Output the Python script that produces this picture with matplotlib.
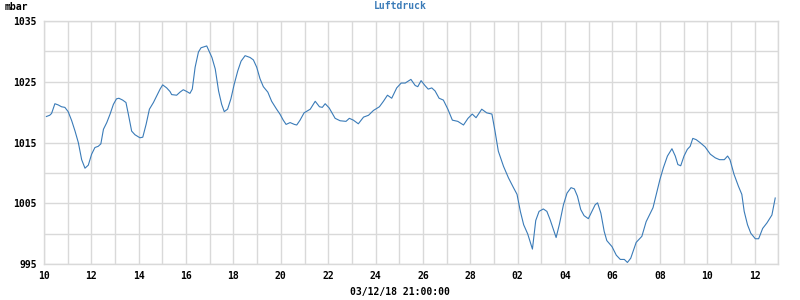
import numpy as np
from matplotlib import pyplot as plt

# days since 10 Feb 2018 00:00, pressure in mbar
days = [0.10, 0.24, 0.32, 0.46, 0.60, 0.74, 0.88, 1.02, 1.17, 1.31, 1.45, 1.59, 1.73, 1.87,
        2.01, 2.15, 2.29, 2.40, 2.51, 2.65, 2.79, 2.93, 3.06, 3.16, 3.32, 3.46, 3.56, 3.70,
        3.84, 4.05, 4.17, 4.31, 4.45, 4.62, 4.76, 4.90, 5.01, 5.18, 5.32, 5.39, 5.60, 5.74,
        5.88, 6.03, 6.16, 6.26, 6.38, 6.52, 6.63, 6.87, 7.09, 7.23, 7.37, 7.50, 7.61, 7.75,
        7.89, 8.03, 8.18, 8.32, 8.49, 8.70, 8.84, 8.98, 9.12, 9.26, 9.45, 9.61, 9.82, 9.96,
        10.10, 10.22, 10.39, 10.57, 10.67, 10.81, 10.98, 11.24, 11.45, 11.63, 11.75, 11.87,
        12.04, 12.29, 12.50, 12.75, 12.89, 13.06, 13.27, 13.49, 13.70, 13.91, 14.16, 14.33,
        14.50, 14.68, 14.89, 15.08, 15.25, 15.49, 15.67, 15.78, 15.92, 16.08, 16.22, 16.37,
        16.51, 16.68, 16.86, 17.05, 17.24, 17.47, 17.71, 17.90, 18.08, 18.24, 18.48, 18.69,
        18.91, 19.04, 19.18, 19.40, 19.61, 19.82, 19.97, 20.11, 20.25, 20.42, 20.62, 20.76,
        20.90, 21.08, 21.23, 21.37, 21.51, 21.62, 21.76, 21.93, 22.08, 22.25, 22.39, 22.52,
        22.66, 22.80, 22.98, 23.13, 23.27, 23.37, 23.51, 23.65, 23.76, 23.98, 24.16, 24.33,
        24.50, 24.63, 24.77, 25.00, 25.24, 25.42, 25.71, 25.88, 26.00, 26.15, 26.32, 26.51,
        26.65, 26.76, 26.88, 27.02, 27.16, 27.28, 27.39, 27.53, 27.70, 27.91, 28.13, 28.34,
        28.52, 28.72, 28.86, 28.96, 29.13, 29.32, 29.46, 29.56, 29.70, 29.84, 30.03, 30.17,
        30.34, 30.52, 30.73, 30.87]
pressure = [1019.3, 1019.5, 1019.8, 1021.4, 1021.2, 1020.9, 1020.8, 1020.1, 1018.6, 1016.9,
            1015.0, 1012.2, 1010.8, 1011.3, 1013.1, 1014.2, 1014.4, 1014.8, 1017.2, 1018.3,
            1019.7, 1021.3, 1022.2, 1022.3, 1022.0, 1021.6, 1019.7, 1016.9, 1016.3, 1015.8,
            1015.9, 1018.0, 1020.5, 1021.6, 1022.7, 1023.8, 1024.5, 1024.0, 1023.4, 1022.9,
            1022.8, 1023.3, 1023.7, 1023.4, 1023.1, 1023.8, 1027.4, 1029.9, 1030.6, 1030.9,
            1029.0, 1027.1, 1023.5, 1021.3, 1020.1, 1020.5, 1022.2, 1024.6, 1026.8, 1028.4,
            1029.3, 1029.0, 1028.6, 1027.4, 1025.5, 1024.2, 1023.3, 1021.8, 1020.5, 1019.7,
            1018.7, 1018.0, 1018.3, 1018.0, 1017.9, 1018.7, 1019.9, 1020.5, 1021.8, 1020.9,
            1020.8, 1021.4, 1020.7, 1019.0, 1018.6, 1018.5, 1019.0, 1018.7, 1018.1, 1019.2,
            1019.5, 1020.3, 1020.9, 1021.8, 1022.8, 1022.3, 1024.0, 1024.8, 1024.8, 1025.4,
            1024.4, 1024.2, 1025.2, 1024.4, 1023.8, 1024.0, 1023.5, 1022.3, 1022.0, 1020.5,
            1018.7, 1018.5, 1017.9, 1019.0, 1019.7, 1019.1, 1020.5, 1019.9, 1019.7, 1016.9,
            1013.6, 1011.1, 1009.2, 1007.6, 1006.5, 1003.7, 1001.5, 1000.0, 997.5, 1002.2,
            1003.7, 1004.1, 1003.7, 1002.3, 1000.7, 999.4, 1001.6, 1004.8, 1006.7, 1007.6,
            1007.4, 1006.2, 1004.0, 1003.0, 1002.5, 1003.7, 1004.8, 1005.1, 1003.4, 1000.4,
            998.9, 997.9, 996.5, 995.8, 995.8, 995.3, 996.0, 998.6, 999.6, 1002.0, 1004.3,
            1007.0, 1008.9, 1010.9, 1012.8, 1014.0, 1012.8, 1011.4, 1011.2, 1012.8, 1013.9,
            1014.4, 1015.7, 1015.5, 1015.0, 1014.3, 1013.1, 1012.5, 1012.2, 1012.2, 1012.8,
            1012.2, 1009.8, 1007.8, 1006.5, 1003.7, 1001.5, 1000.1, 999.2, 999.2, 1000.9,
            1001.8, 1003.1, 1005.9]

xtick_pos = list(range(0, 31, 2))
xtick_labels = ['10', '12', '14', '16', '18', '20', '22', '24', '26', '28',
                '02', '04', '06', '08', '10', '12']
ytick_pos = [995, 1005, 1015, 1025, 1035]

font = {'family': 'DejaVu Sans Mono', 'weight': 'bold', 'size': 7}
grid_col = '#d9d9d9'
line_col = '#3a7bb8'

fig = plt.figure(figsize=(8, 3), dpi=100)
ax = fig.add_axes([44 / 800, 1 - 264.3 / 300, 734.3 / 800, 243.3 / 300])
ax.plot(days, pressure, color=line_col, linewidth=0.8)

ax.set_xlim(0, 31)
ax.set_ylim(995, 1035)
ax.set_xticks(np.arange(0, 32, 1), minor=True)
ax.set_yticks(np.arange(995, 1036, 5), minor=True)
ax.set_xticks(xtick_pos)
ax.set_xticklabels(xtick_labels, fontdict=font)
ax.set_yticks(ytick_pos)
ax.set_yticklabels([str(v) for v in ytick_pos], fontdict=font)
ax.grid(True, which='both', color=grid_col, linewidth=1)
ax.tick_params(which='both', length=0, colors='black')
ax.tick_params(axis='x', pad=5)
ax.tick_params(axis='y', pad=5)
for s in ax.spines.values():
    s.set_color(grid_col)
    s.set_linewidth(1)

fig.text(5 / 800, 1 - 7 / 300, 'mbar', ha='left', va='center', **font)
fig.text(400 / 800, 1 - 6 / 300, 'Luftdruck', ha='center', va='center',
         color=line_col, **font)
fig.text(400 / 800, 1 - 292 / 300, '03/12/18 21:00:00', ha='center', va='center', **font)

fig.savefig('out.png', dpi=100)
